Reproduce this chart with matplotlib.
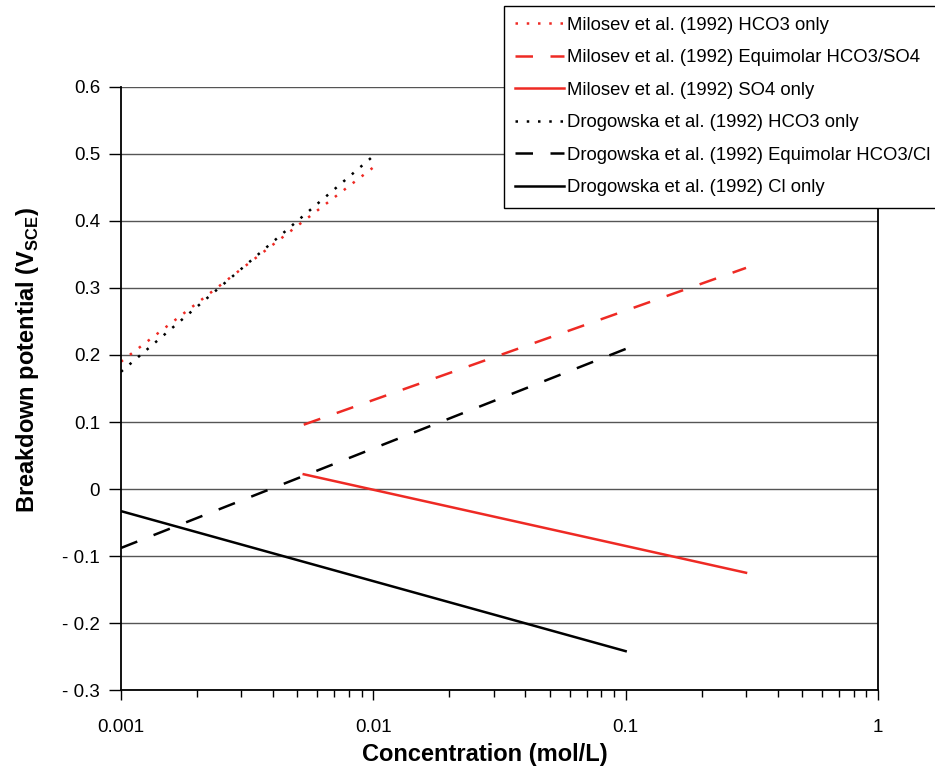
import matplotlib
matplotlib.use("Agg")
import matplotlib.pyplot as plt
from matplotlib.ticker import LogLocator, NullFormatter

plt.rcParams['font.family'] = ['Liberation Sans', 'DejaVu Sans']
plt.rcParams['mathtext.fontset'] = 'custom'
plt.rcParams['mathtext.bf'] = 'Liberation Sans:bold'
plt.rcParams['mathtext.rm'] = 'Liberation Sans'

labels = [
    "Milosev et al. (1992) HCO3 only",
    "Milosev et al. (1992) Equimolar HCO3/SO4",
    "Milosev et al. (1992) SO4 only",
    "Drogowska et al. (1992) HCO3 only",
    "Drogowska et al. (1992) Equimolar HCO3/Cl",
    "Drogowska et al. (1992) Cl only",
]
milosev_hco3_x = [0.001, 0.01]
milosev_hco3_y = [0.19, 0.48]
milosev_eq_x = [0.0053, 0.3]
milosev_eq_y = [0.096, 0.33]
milosev_so4_x = [0.0053, 0.3]
milosev_so4_y = [0.022, -0.125]
drog_hco3_x = [0.001, 0.01]
drog_hco3_y = [0.175, 0.497]
drog_eq_x = [0.001, 0.1]
drog_eq_y = [-0.088, 0.209]
drog_cl_x = [0.001, 0.1]
drog_cl_y = [-0.033, -0.242]

yticks = [0.6, 0.5, 0.4, 0.3, 0.2, 0.1, 0.0, -0.1, -0.2, -0.3]
ytick_labels = ["0.6", "0.5", "0.4", "0.3", "0.2", "0.1", "0", "- 0.1", "- 0.2", "- 0.3"]
xticks = [0.001, 0.01, 0.1, 1]
xtick_labels = ["0.001", "0.01", "0.1", "1"]

red = "#ee2a24"
fig = plt.figure(figsize=(9.35, 7.69), dpi=100)
ax = fig.add_axes([0.1294, 0.1027, 0.8096, 0.7842])

lw = 1.8
ax.plot(milosev_hco3_x, milosev_hco3_y, color=red, lw=lw, linestyle=(0, (1, 3.5)), label=labels[0])
ax.plot(milosev_eq_x, milosev_eq_y, color=red, lw=lw, linestyle=(0, (7, 7)), label=labels[1])
ax.plot(milosev_so4_x, milosev_so4_y, color=red, lw=lw, linestyle='-', label=labels[2])
ax.plot(drog_hco3_x, drog_hco3_y, color='black', lw=lw, linestyle=(0, (1, 3.5)), label=labels[3])
ax.plot(drog_eq_x, drog_eq_y, color='black', lw=lw, linestyle=(0, (7, 7)), label=labels[4])
ax.plot(drog_cl_x, drog_cl_y, color='black', lw=lw, linestyle='-', label=labels[5])

ax.set_xscale('log')
ax.set_xlim(0.001, 1)
ax.set_ylim(-0.3, 0.6)
ax.set_yticks(yticks)
ax.set_yticklabels(ytick_labels)
ax.set_xticks(xticks)
ax.set_xticklabels(xtick_labels)
ax.xaxis.set_minor_locator(LogLocator(base=10, subs=range(2, 10)))
ax.xaxis.set_minor_formatter(NullFormatter())

ax.grid(axis='y', color='#555555', lw=1.0)
ax.set_axisbelow(True)
for s in ['left', 'bottom', 'right']:
    ax.spines[s].set_linewidth(1.3)
    ax.spines[s].set_color('black')
ax.spines['top'].set_visible(False)

ax.tick_params(axis='y', direction='out', length=9, width=1, labelsize=13.5, pad=6)
ax.tick_params(axis='x', which='major', direction='out', length=7, width=1, labelsize=13.5, pad=14)
ax.tick_params(axis='x', which='minor', direction='out', length=5, width=1)

ax.set_xlabel("Concentration (mol/L)", fontsize=17, fontweight='bold')
ax.xaxis.set_label_coords(0.481, -0.088)
ax.set_ylabel(r"Breakdown potential (V$_{\mathbf{SCE}}$)", fontsize=17, fontweight='bold')
ax.yaxis.set_label_coords(-0.106, 0.547)

leg = fig.legend(loc='upper left', bbox_to_anchor=(0.539, 0.9925), fontsize=13.3,
                 frameon=True, fancybox=False, framealpha=1, edgecolor='black',
                 handlelength=2.65, handletextpad=0.15, labelspacing=0.84,
                 borderpad=0.6, borderaxespad=0)
leg.get_frame().set_linewidth(1.0)

fig.savefig("out.png", dpi=100)
